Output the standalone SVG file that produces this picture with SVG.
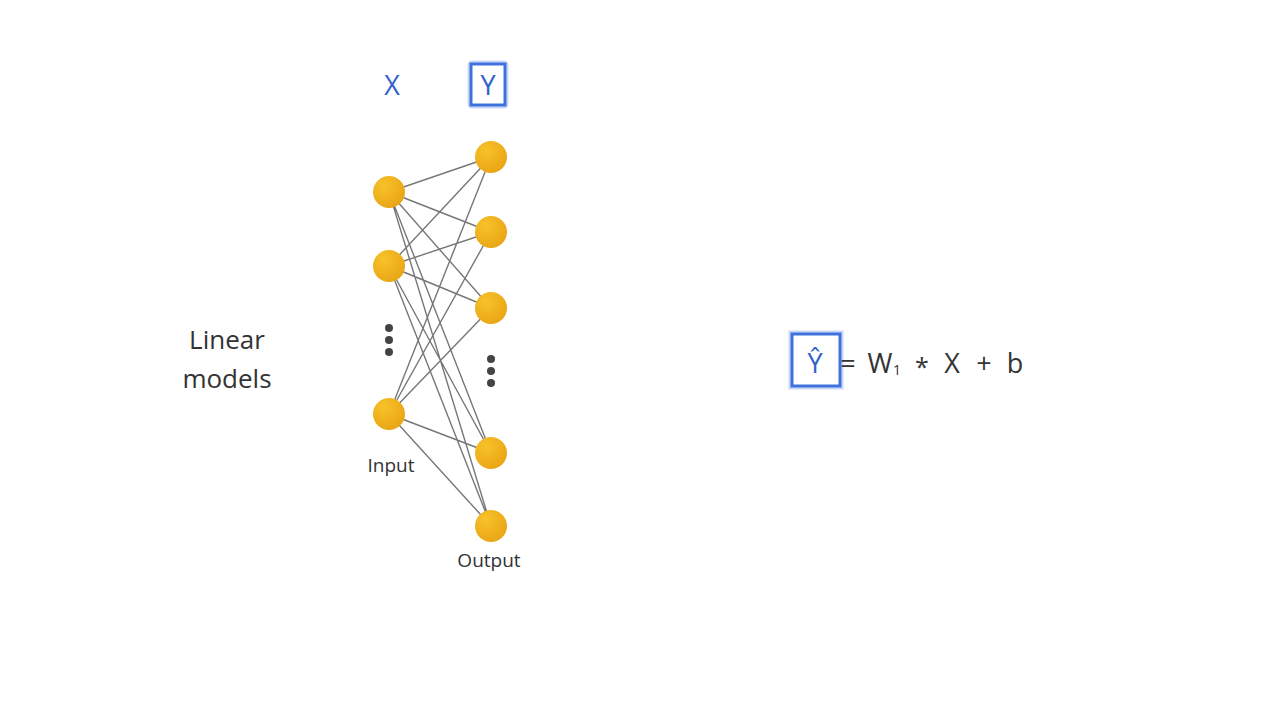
<svg xmlns="http://www.w3.org/2000/svg" width="1280" height="720" viewBox="0 0 1280 720">
<style>
.lbl{font-family:"Open Sans","Liberation Sans",sans-serif;fill:#333;}
.blue{font-family:"Open Sans","Liberation Sans",sans-serif;fill:#2F63C9;}
.node{fill:url(#g);}
.dot{fill:#444;}
.edge{stroke:#777;stroke-width:1.4;fill:none;}
.boxglow{fill:none;stroke:#C9D8F7;stroke-width:7;}
.box{fill:#fff;stroke:#3F72DC;stroke-width:3;}
</style>
<defs>
<radialGradient id="g" cx="0.35" cy="0.3" r="0.75">
<stop offset="0" stop-color="#F7C22A"/>
<stop offset="1" stop-color="#E9A514"/>
</radialGradient>
</defs>
<rect width="1280" height="720" fill="#fff"/>
<g id="connectors">
<path class="edge" d="M389 192L491 157M389 192L491 232M389 192L491 308M389 192L491 453M389 192L491 526
M389 266L491 157M389 266L491 232M389 266L491 308M389 266L491 453M389 266L491 526
M389 414L491 157M389 414L491 232M389 414L491 308M389 414L491 453M389 414L491 526"/>
</g>
<g id="input-nodes">
<circle class="node" cx="389" cy="192" r="16"/>
<circle class="node" cx="389" cy="266" r="16"/>
<circle class="node" cx="389" cy="414" r="16"/>
<circle class="dot" cx="389" cy="328" r="4"/>
<circle class="dot" cx="389" cy="340" r="4"/>
<circle class="dot" cx="389" cy="352" r="4"/>
</g>
<g id="output-nodes">
<circle class="node" cx="491" cy="157" r="16"/>
<circle class="node" cx="491" cy="232" r="16"/>
<circle class="node" cx="491" cy="308" r="16"/>
<circle class="node" cx="491" cy="453" r="16"/>
<circle class="node" cx="491" cy="526" r="16"/>
<circle class="dot" cx="491" cy="359" r="4"/>
<circle class="dot" cx="491" cy="371" r="4"/>
<circle class="dot" cx="491" cy="383" r="4"/>
</g>
<g id="label-x"><text class="blue" x="392" y="95" font-size="27" text-anchor="middle">X</text></g>
<g id="label-y">
<rect class="boxglow" x="471" y="64" width="34" height="41" rx="1"/>
<rect class="box" x="471" y="64" width="34" height="41"/>
<text class="blue" x="488" y="95" font-size="27" text-anchor="middle">Y</text>
</g>
<g id="title"><text class="lbl" font-size="26" text-anchor="middle"><tspan x="227" y="349">Linear</tspan><tspan x="227" y="388">models</tspan></text></g>
<g id="input-label"><text class="lbl" x="391" y="472" font-size="19" text-anchor="middle">Input</text></g>
<g id="output-label"><text class="lbl" x="489" y="567" font-size="19" text-anchor="middle">Output</text></g>
<g id="equation">
<rect class="boxglow" x="792" y="334" width="48" height="52"/>
<rect class="box" x="792" y="334" width="48" height="52"/>
<text class="blue" x="815" y="373" font-size="27" text-anchor="middle">Ŷ</text>
<text class="lbl" x="848" y="373" font-size="27" text-anchor="middle">=</text>
<text class="lbl" x="880" y="373" font-size="27" text-anchor="middle">W</text>
<text class="lbl" x="897" y="375" font-size="14" text-anchor="middle">1</text>
<text class="lbl" x="922" y="376" font-size="25" text-anchor="middle">*</text>
<text class="lbl" x="952" y="373" font-size="27" text-anchor="middle">X</text>
<text class="lbl" x="984" y="373" font-size="27" text-anchor="middle">+</text>
<text class="lbl" x="1015" y="373" font-size="27" text-anchor="middle">b</text>
</g>
</svg>
